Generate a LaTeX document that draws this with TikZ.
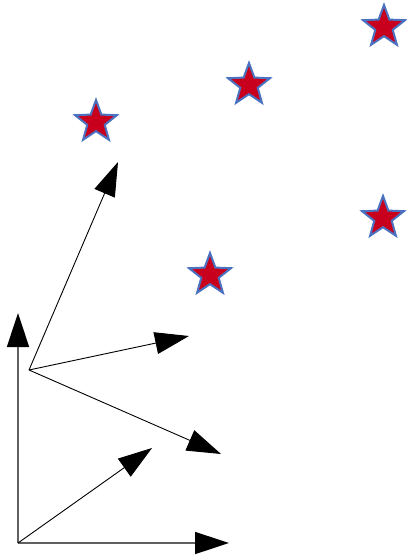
\documentclass[tikz,border=0pt]{standalone}
\usetikzlibrary{arrows.meta,shapes.geometric}
\definecolor{starred}{HTML}{C8001E}
\definecolor{starblue}{HTML}{4A72C0}
\definecolor{axisgray}{HTML}{606060}
\begin{document}
\begin{tikzpicture}[x=1pt,y=-1pt,
  starshape/.style={star,star points=5,star point ratio=2.4,minimum size=44pt,inner sep=0pt,
    fill=starred,draw=starblue,line width=2pt},
  bigarrow/.style={line width=0.9pt,-{Triangle[length=34pt,width=22pt]}},
  axisarrow/.style={draw=axisgray,line width=1.6pt,-{Triangle[length=34pt,width=22pt,fill=black,color=black]}}]
\useasboundingbox (0,0) rectangle (407,558);
% stars
\node[starshape] (s1) at (384,27) {};
\node[starshape] (s2) at (249,85) {};
\node[starshape] (s3) at (96,122) {};
\node[starshape] (s4) at (210,275) {};
\node[starshape] (s5) at (383,218) {};
% points
\coordinate (o1) at (18,543);
\coordinate (o2) at (29,370);
\coordinate (ty) at (18,313);
\coordinate (tx) at (229,543);
\coordinate (td) at (152,448);
\coordinate (tu) at (118,162);
\coordinate (tr) at (189,336);
\coordinate (tl) at (221,454);
% axes
\draw[axisarrow] (o1) -- (ty);
\draw[axisarrow] (o1) -- (tx);
\draw[bigarrow] (o1) -- (td);
% fan
\draw[bigarrow] (o2) -- (tu);
\draw[bigarrow] (o2) -- (tr);
\draw[bigarrow] (o2) -- (tl);
\end{tikzpicture}
\end{document}
